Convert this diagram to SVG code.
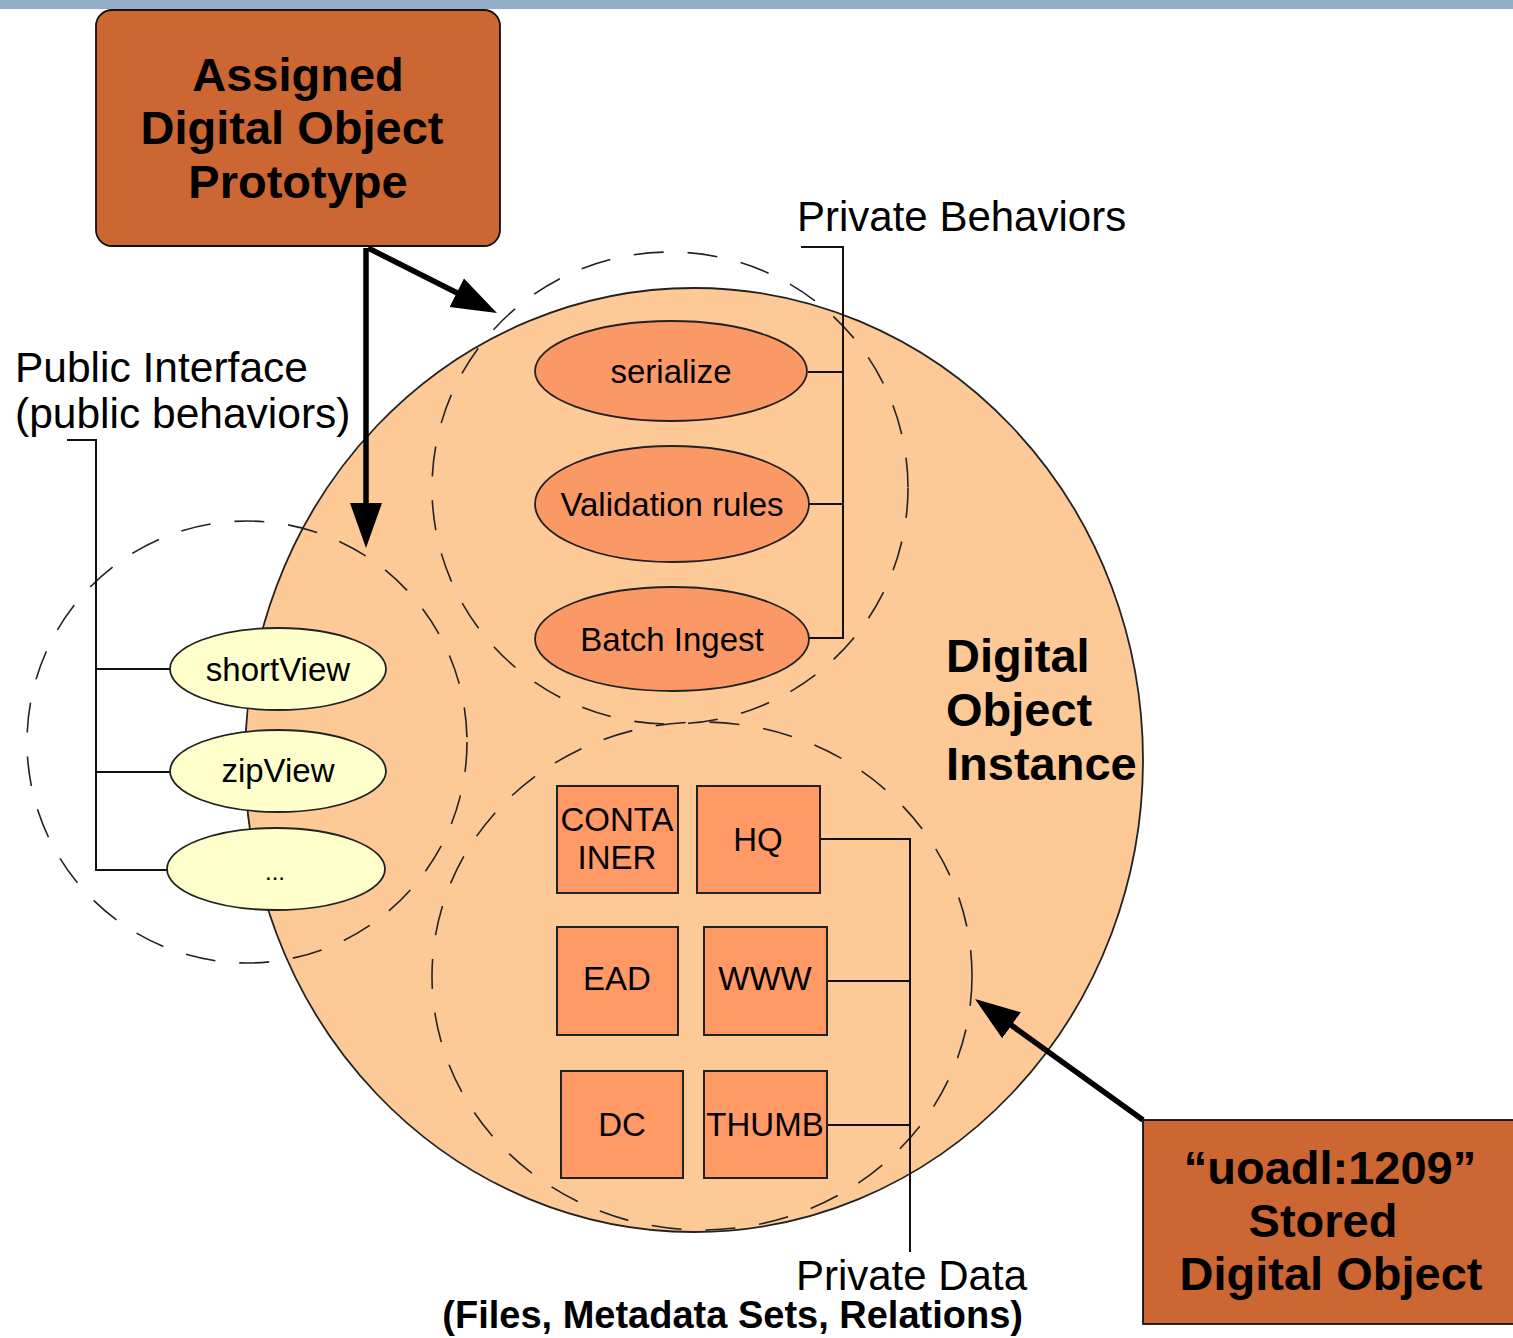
<svg xmlns="http://www.w3.org/2000/svg" width="1513" height="1338" viewBox="0 0 1513 1338">
<defs>
<style>
text{font-family:"Liberation Sans",Arial,sans-serif;fill:#000}
.big{font-size:47px;font-weight:bold}
.lbl{font-size:42px}
.sm{font-size:33px}
.dash{fill:none;stroke:#222;stroke-width:1.6;stroke-dasharray:30 24}
.pb{fill:#FA9966;stroke:#222;stroke-width:1.8}
.pub{fill:#FFFFCC;stroke:#222;stroke-width:1.8}
.rect{fill:#FF9966;stroke:#222;stroke-width:2}
.conn{fill:none;stroke:#111;stroke-width:2}
.arrow{fill:none;stroke:#000;stroke-width:5.5}
</style>
<marker id="ah" markerUnits="userSpaceOnUse" markerWidth="46" markerHeight="34" viewBox="0 0 46 34" refX="10" refY="17" orient="auto">
<path d="M0,1 L45,17 L0,33 z" fill="#000"/>
</marker>
</defs>
<rect x="0" y="0" width="1513" height="9" fill="#93ADC8"/>
<rect x="0" y="9" width="1513" height="1329" fill="#FFFFFF"/>

<g id="instance">
<ellipse cx="694" cy="760" rx="449" ry="472" fill="#FDC997" stroke="#222" stroke-width="1.8"/>
<text class="big" x="946" y="672">Digital</text>
<text class="big" x="946" y="726">Object</text>
<text class="big" x="946" y="780">Instance</text>
</g>

<g id="private-behaviors-area">
<ellipse class="dash" cx="670" cy="488" rx="238" ry="236"/>
</g>
<g id="private-data-area">
<ellipse class="dash" cx="702" cy="976" rx="270" ry="254"/>
</g>
<g id="public-area">
<ellipse class="dash" cx="247" cy="742" rx="220" ry="221"/>
</g>

<g id="connectors">
<polyline class="conn" points="67,440 96,440 96,870 168,870"/>
<line class="conn" x1="96" y1="669" x2="170" y2="669"/>
<line class="conn" x1="96" y1="772" x2="170" y2="772"/>
<polyline class="conn" points="801,247 843,247 843,638 808,638"/>
<line class="conn" x1="808" y1="372" x2="843" y2="372"/>
<line class="conn" x1="808" y1="504" x2="843" y2="504"/>
<polyline class="conn" points="820,839 910,839 910,1252"/>
<line class="conn" x1="827" y1="981" x2="910" y2="981"/>
<line class="conn" x1="827" y1="1125" x2="910" y2="1125"/>
<line class="arrow" x1="366" y1="248" x2="366" y2="513" marker-end="url(#ah)"/>
<line class="arrow" x1="368" y1="248" x2="465.7" y2="297.2" marker-end="url(#ah)"/>
<line class="arrow" x1="1143" y1="1120" x2="1003.4" y2="1019.5" marker-end="url(#ah)"/>
</g>

<g id="prototype">
<rect x="96" y="10" width="404" height="236" rx="16" fill="#CC6633" stroke="#111" stroke-width="1.8"/>
<text class="big" x="298" y="91" text-anchor="middle">Assigned</text>
<text class="big" x="292" y="144" text-anchor="middle">Digital Object</text>
<text class="big" x="298" y="198" text-anchor="middle">Prototype</text>
</g>

<g id="stored">
<rect x="1143" y="1120" width="380" height="204" fill="#CC6633" stroke="#111" stroke-width="1.8"/>
<text class="big" x="1330" y="1184" text-anchor="middle">“uoadl:1209”</text>
<text class="big" x="1323" y="1237" text-anchor="middle">Stored</text>
<text class="big" x="1331" y="1290" text-anchor="middle">Digital Object</text>
</g>

<g id="serialize"><ellipse class="pb" cx="671" cy="371" rx="136" ry="50"/><text class="sm" x="671" y="383" text-anchor="middle">serialize</text></g>
<g id="validation"><ellipse class="pb" cx="672" cy="504" rx="137" ry="58"/><text class="sm" x="672" y="516" text-anchor="middle">Validation rules</text></g>
<g id="batch"><ellipse class="pb" cx="672" cy="639" rx="137" ry="52"/><text class="sm" x="672" y="651" text-anchor="middle">Batch Ingest</text></g>

<g id="shortView"><ellipse class="pub" cx="278" cy="669" rx="108" ry="41"/><text class="sm" x="278" y="681" text-anchor="middle">shortView</text></g>
<g id="zipView"><ellipse class="pub" cx="278" cy="771" rx="108" ry="41"/><text class="sm" x="278" y="782" text-anchor="middle">zipView</text></g>
<g id="more"><ellipse class="pub" cx="276" cy="869" rx="109" ry="41"/><text class="sm" x="275" y="880" text-anchor="middle" style="font-size:24px">...</text></g>

<g id="container"><rect class="rect" x="557" y="786" width="121" height="107"/><text class="sm" x="617" y="831" text-anchor="middle">CONTA</text><text class="sm" x="617" y="869" text-anchor="middle">INER</text></g>
<g id="hq"><rect class="rect" x="697" y="786" width="123" height="107"/><text class="sm" x="758" y="851" text-anchor="middle">HQ</text></g>
<g id="ead"><rect class="rect" x="557" y="927" width="121" height="108"/><text class="sm" x="617" y="990" text-anchor="middle">EAD</text></g>
<g id="www"><rect class="rect" x="704" y="927" width="123" height="108"/><text class="sm" x="765" y="990" text-anchor="middle">WWW</text></g>
<g id="dc"><rect class="rect" x="561" y="1071" width="122" height="107"/><text class="sm" x="622" y="1136" text-anchor="middle">DC</text></g>
<g id="thumb"><rect class="rect" x="704" y="1071" width="123" height="107"/><text class="sm" x="765" y="1136" text-anchor="middle">THUMB</text></g>

<g id="labels">
<text class="lbl" x="15" y="382" style="font-size:42.5px">Public Interface</text>
<text class="lbl" x="15" y="428" style="font-size:42.5px">(public behaviors)</text>
<text class="lbl" x="797" y="231">Private Behaviors</text>
<text class="lbl" x="1027" y="1290" text-anchor="end">Private Data</text>
<text x="1023" y="1328" text-anchor="end" style="font-size:38px;font-weight:bold">(Files, Metadata Sets, Relations)</text>
</g>
</svg>
